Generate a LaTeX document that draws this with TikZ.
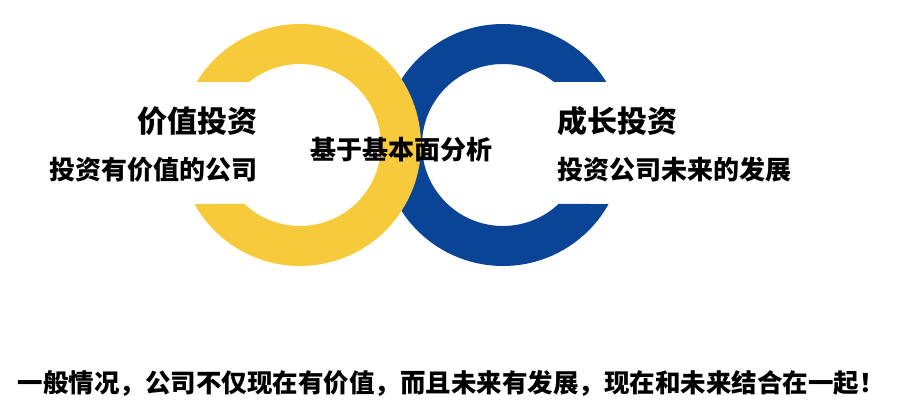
\documentclass[tikz,border=0pt]{standalone}
\usepackage{fontspec}
\newfontfamily\cjk{Noto Sans CJK SC}
\definecolor{ringyellow}{RGB}{246,202,58}
\definecolor{ringblue}{RGB}{10,68,150}

\begin{document}
\begin{tikzpicture}[
    x=1pt, y=1pt,
    every node/.style={inner sep=0pt, font=\cjk\bfseries},
    title/.style={font=\cjk\bfseries\fontsize{30}{32}\selectfont},
    desc/.style={font=\cjk\bfseries\fontsize{26}{28}\selectfont},
    summary/.style={font=\cjk\bfseries\fontsize{25.5}{27}\selectfont}
]
\useasboundingbox (0,0) rectangle (899,408);

% Blue ring (opening to the right)
\begin{scope}[shift={(503,263)}]
\fill[ringblue] (31.4:121) arc[start angle=31.4, end angle=330.8, radius=121]
    -- (313.3:81) arc[start angle=313.3, end angle=51.1, radius=81] -- cycle;
\end{scope}

% Yellow ring (opening to the left), on top of the blue one
\begin{scope}[shift={(300,263)}]
\fill[ringyellow] (148.6:121) arc[start angle=148.6, end angle=-150.8, radius=121]
    -- (-133.3:81) arc[start angle=-133.3, end angle=128.9, radius=81] -- cycle;
\end{scope}

% Texts
\node[title, anchor=east] (value) at (258,287) {价值投资};
\node[desc, anchor=east] (valuedesc) at (258,238) {投资有价值的公司};
\node[desc] (basis) at (401,258) {基于基本面分析};
\node[title, anchor=west] (growth) at (557,287) {成长投资};
\node[desc, anchor=west] (growthdesc) at (557,238) {投资公司未来的发展};
\node[summary] (summary) at (451,25) {一般情况，公司不仅现在有价值，而且未来有发展，现在和未来结合在一起！};

\end{tikzpicture}
\end{document}
